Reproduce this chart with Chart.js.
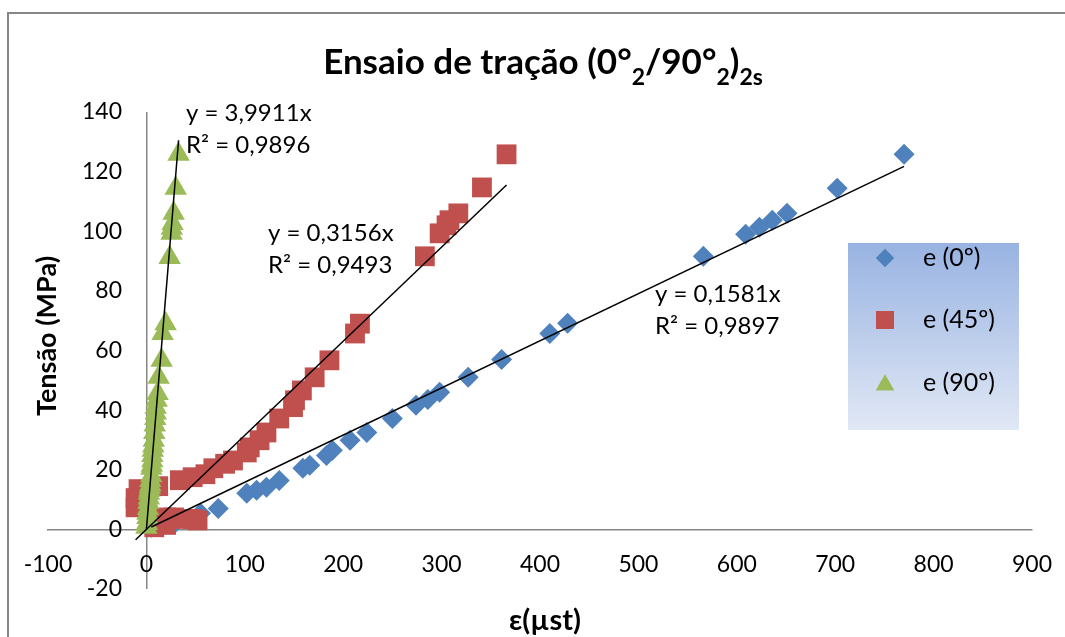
<!DOCTYPE html>
<html><head><meta charset="utf-8">
<script src="https://cdn.jsdelivr.net/npm/chart.js@4.4.0/dist/chart.umd.min.js"></script>
<style>
html,body{margin:0;padding:0;background:#fff;overflow:hidden;width:1065px;height:637px;}
#frame{position:absolute;left:7px;top:12px;width:1200px;height:800px;border-left:2px solid #878787;border-top:2px solid #878787;}
#wrap{position:absolute;left:0;top:0;width:1065px;height:637px;}
</style></head><body>
<div id="frame"></div>
<div id="wrap"><canvas id="c" width="1065" height="637"></canvas></div>
<script>
// ---- data ----
const seriesNames = ['e (0º)', 'e (45º)', 'e (90º)'];
const blueX = [5, 30, 55, 73, 102, 112, 122, 135, 159, 166, 183, 189, 207, 224, 250, 274, 286, 298, 327, 361, 410, 428, 566, 609, 623, 636, 651, 702, 770];
const blueY = [0.7, 2.5, 5.4, 7.0, 12.1, 13.1, 14.1, 16.4, 20.5, 21.5, 24.8, 26.5, 29.9, 32.5, 37.2, 41.6, 43.6, 46, 51, 57, 65.7, 69.1, 91.6, 99, 101.3, 103.7, 106, 114.4, 125.8];
const redX = [-11, -11, -8, 8, 14, 20, 28, 38, 47, 52, 20, 12, 34, 47, 60, 68, 80, 88, 102, 105, 115, 122, 135, 149, 151, 158, 171, 186, 212, 217, 283, 298, 305, 308, 317, 341, 366];
const redY = [7.4, 10.5, 13.5, 0.7, 2.5, 4, 4, 3.5, 3.5, 3, 1.5, 14.5, 16.5, 17.5, 18.5, 20.5, 22, 23.1, 25.8, 27.5, 29.9, 32.5, 37.2, 41, 43.3, 46.6, 51, 56.7, 65.7, 69, 91.6, 99.3, 102, 103.7, 106, 114.7, 125.8];
const greenX = [0, 0.5, 1, 1, 1.5, 2, 2.5, 2.5, 3, 3.5, 4, 4, 5, 5, 5.5, 6, 6, 6.5, 7, 7.5, 8, 8.5, 9, 9.5, 9.4, 10.4, 11.4, 12.4, 15.5, 16.5, 19.5, 23.6, 25.6, 25.8, 26.6, 27.7, 29.8, 32.7];
const greenY = [0.7, 2, 4, 5.4, 7, 9, 10.5, 12.1, 13.1, 14.1, 15, 16.4, 18, 20.5, 21.5, 23, 24.8, 26.5, 28, 29.9, 32.5, 35, 37.2, 39, 41, 43.3, 45.6, 51, 56.7, 65.7, 69, 91.2, 99.3, 101, 102.6, 106, 114.4, 125.8];
const slopes = [0.1581, 0.3156, 3.9911];
const equationLabels = ['y = 0,1581x', 'y = 0,3156x', 'y = 3,9911x'];
const r2Labels = ['R² = 0,9897', 'R² = 0,9493', 'R² = 0,9896'];
const xTicks = {min: -100, max: 900, step: 100};
const yTicks = {min: -20, max: 140, step: 20};
const xTitle = 'ε(µst)';
const yTitle = 'Tensão (MPa)';
const titleParts = [['Ensaio de tração (0°', false], ['2', true], ['/90°', false], ['2', true], [')', false], ['2s', true]];

// ---- styles ----
const colors = ['#4F81BD', '#C0504D', '#9BBB59'];
const styles = ['rectRot', 'rect', 'triangle'];
const radii = [10.5, 14, 13];
const FONT = 'Lato, "Open Sans", sans-serif';

function pts(xs, ys) { return xs.map((x, i) => ({x: x, y: ys[i]})); }
function trend(xs, k) {
  const lo = Math.min(...xs), hi = Math.max(...xs);
  return [{x: lo, y: k * lo}, {x: hi, y: k * hi}];
}
const seriesX = [blueX, redX, greenX];
const seriesY = [blueY, redY, greenY];

const datasets = [];
for (let i = 0; i < 3; i++) {
  datasets.push({
    label: seriesNames[i], data: pts(seriesX[i], seriesY[i]),
    pointStyle: styles[i], pointRadius: radii[i], pointHoverRadius: radii[i],
    backgroundColor: colors[i], borderColor: colors[i], pointBorderWidth: 0,
    showLine: false, order: 3 - i
  });
}
for (let i = 0; i < 3; i++) {
  datasets.push({
    label: 'trend' + i, data: trend(seriesX[i], slopes[i]),
    showLine: true, pointRadius: 0, borderColor: '#000', borderWidth: 1.5,
    backgroundColor: '#000', order: 0
  });
}

const textPlugin = {
  id: 'texts',
  afterDraw(chart) {
    const ctx = chart.ctx;
    ctx.save();
    ctx.fillStyle = '#000';
    // title with subscripts
    const mainF = 'bold 35px ' + FONT, subF = 'bold 23px ' + FONT;
    let total = 0;
    titleParts.forEach(p => { ctx.font = p[1] ? subF : mainF; total += ctx.measureText(p[0]).width; });
    let x = 543 - total / 2;
    ctx.textBaseline = 'alphabetic'; ctx.textAlign = 'left';
    titleParts.forEach(p => {
      ctx.font = p[1] ? subF : mainF;
      ctx.fillText(p[0], x, p[1] ? 85 : 74);
      x += ctx.measureText(p[0]).width;
    });
    // axis titles
    ctx.textAlign = 'center'; ctx.textBaseline = 'middle';
    ctx.font = 'bold 29px ' + FONT;
    ctx.fillText(xTitle, 545, 621);
    ctx.font = 'bold 27px ' + FONT;
    ctx.save();
    ctx.translate(47, 336); ctx.rotate(-Math.PI / 2);
    ctx.fillText(yTitle, 0, 0);
    ctx.restore();
    // trendline equations
    ctx.font = '24px ' + FONT; ctx.textAlign = 'left';
    const eqPos = [[655, 294, 326], [268, 233, 265], [186, 113, 145]];
    for (let i = 0; i < 3; i++) {
      ctx.fillText(equationLabels[i], eqPos[i][0], eqPos[i][1]);
      ctx.fillText(r2Labels[i], eqPos[i][0], eqPos[i][2]);
    }
    // legend
    const lx = 848, ly = 243, lw = 171, lh = 187;
    const g = ctx.createLinearGradient(0, ly, 0, ly + lh);
    g.addColorStop(0, '#98B3E2'); g.addColorStop(1, '#E1E8F5');
    ctx.fillStyle = g; ctx.fillRect(lx, ly, lw, lh);
    const rows = [258, 320, 383];
    const lr = [9, 12.7, 10.4];
    for (let i = 0; i < 3; i++) {
      ctx.fillStyle = colors[i];
      Chart.helpers.drawPoint(ctx, {pointStyle: styles[i], radius: lr[i], rotation: 0, borderWidth: 0}, 885, rows[i] + (i === 2 ? 2 : 0));
      ctx.fill();
      ctx.fillStyle = '#000';
      ctx.font = '25px ' + FONT; ctx.textAlign = 'left'; ctx.textBaseline = 'middle';
      ctx.fillText(seriesNames[i], 923, rows[i]);
    }
    ctx.restore();
  }
};

new Chart(document.getElementById('c'), {
  type: 'scatter',
  data: {datasets: datasets},
  options: {
    responsive: false, animation: false, devicePixelRatio: 1,
    layout: {padding: {left: 48, top: 112, right: 33, bottom: 48}},
    plugins: {legend: {display: false}, title: {display: false}, tooltip: {enabled: false}},
    events: [],
    scales: {
      x: {
        type: 'linear', position: {y: 0}, min: xTicks.min, max: xTicks.max,
        ticks: {stepSize: xTicks.step, padding: 21, color: '#000', font: {family: FONT, size: 23}, maxRotation: 0},
        grid: {drawTicks: false, lineWidth: 1.5, color: c => (c.tick && c.tick.value === 0) ? '#868686' : 'rgba(0,0,0,0)'},
        border: {display: true, color: '#868686', width: 1.5},
        afterFit: s => { s.paddingLeft = 0; s.paddingRight = 0; }
      },
      y: {
        type: 'linear', position: 'left', min: yTicks.min, max: yTicks.max,
        ticks: {stepSize: yTicks.step, mirror: true, crossAlign: 'far', padding: 34, color: '#000', font: {family: FONT, size: 23}},
        grid: {display: false}, border: {display: false},
        afterFit: s => { s.width = 0; s.paddingTop = 0; s.paddingBottom = 0; }
      }
    }
  },
  plugins: [textPlugin]
});
</script>
</body></html>
